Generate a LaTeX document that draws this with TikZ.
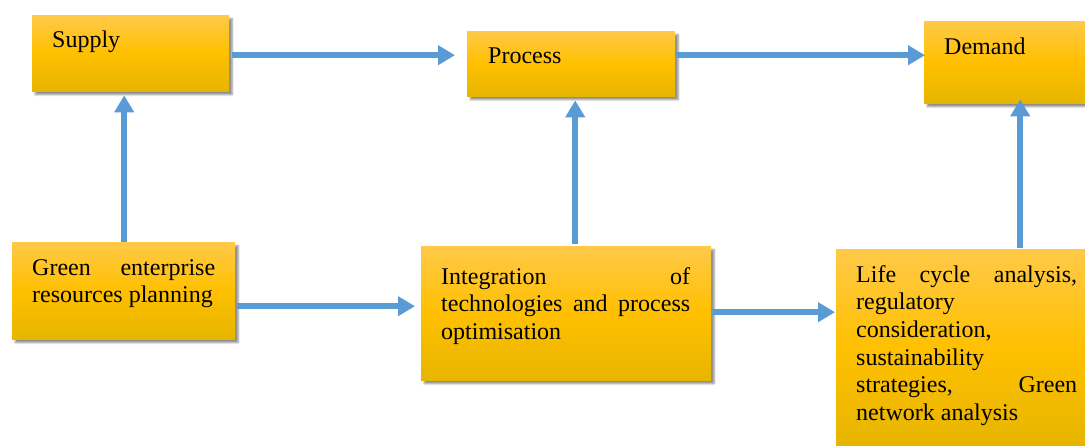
\documentclass[tikz,border=0pt]{standalone}
\usepackage{fontspec}
\setmainfont{Liberation Serif}
\usetikzlibrary{arrows.meta,calc,shadows.blur}

\definecolor{goldtop}{RGB}{255,201,72}
\definecolor{goldmid}{RGB}{255,192,0}
\definecolor{goldbot}{RGB}{230,181,0}
\definecolor{flowblue}{RGB}{91,155,213}

% a line spread to the given width
\newcommand{\jl}[2]{\makebox[#1][s]{#2}}

\tikzset{
  goldbox/.style={rectangle, inner sep=0pt, anchor=north west,
    top color=goldtop, bottom color=goldbot, middle color=goldmid,
    blur shadow={shadow xshift=3pt, shadow yshift=-3.5pt,
      shadow blur steps=6, shadow blur extra rounding=0pt, shadow opacity=45}},
  boxtext/.style={anchor=north west, inner sep=0pt, align=left,
    font=\fontsize{24}{27.6}\selectfont},
  flow/.style={draw=flowblue, line width=5.5pt,
    -{Triangle[width=19pt,length=17pt]}},
}

\begin{document}
\begin{tikzpicture}[x=1pt, y=-1pt]
\useasboundingbox (0,0) rectangle (1085,446);

% boxes
\node[goldbox, minimum width=197pt, minimum height=76pt]  (sup)   at (32,15)   {};
\node[goldbox, minimum width=208pt, minimum height=65pt]  (proc)  at (467,31)  {};
\node[goldbox, minimum width=161pt, minimum height=82pt]  (dem)   at (924,21)  {};
\node[goldbox, minimum width=223pt, minimum height=97pt]  (erp)   at (12,242)  {};
\node[goldbox, minimum width=290pt, minimum height=134pt] (integ) at (421,246) {};
\node[goldbox, minimum width=249pt, minimum height=197pt] (life)  at (836,249) {};

% texts (first baseline minus strut height)
\node[boxtext] (tsup)   at (52,27.7)   {\strut Supply};
\node[boxtext] (tproc)  at (488,43.7)  {\strut Process};
\node[boxtext] (tdem)   at (944,34.7)  {\strut Demand};
\node[boxtext] (terp)   at (32,255.7)  {\strut\jl{183pt}{Green enterprise}\\resources planning};
\node[boxtext] (tinteg) at (441,264.7) {\strut\jl{249pt}{Integration of}\\\jl{249pt}{technologies and process}\\optimisation};
\node[boxtext] (tlife)  at (856,262.7) {\strut\jl{221pt}{Life cycle analysis,}\\regulatory\\consideration,\\sustainability\\\jl{221pt}{strategies, Green}\\network analysis};

% connectors
\draw[flow] ($(sup.east)+(3,2)$)     -- ($(proc.west)+(-12,-8.5)$);
\draw[flow] ($(proc.east)+(1,-8.5)$) -- ($(dem.west)+(1,-7)$);
\draw[flow] ($(erp.north)+(0.5,0)$)  -- ($(sup.south)+(-6.5,4)$);
\draw[flow] ($(integ.north)+(9,-2)$) -- ($(proc.south)+(4,4)$);
\draw[flow] ($(erp.east)+(2,15.5)$)  -- ($(integ.west)+(-6,-7)$);
\draw[flow] ($(integ.east)+(1,-1)$)  -- ($(life.west)+(-1,-35.5)$);
\draw[flow] ($(life.north)+(59.5,-1)$) -- ($(dem.south)+(15.5,-4)$);
\end{tikzpicture}
\end{document}
